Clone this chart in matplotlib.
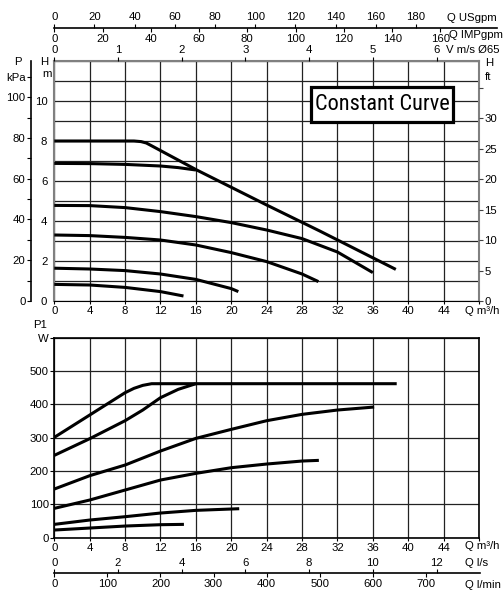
import matplotlib
matplotlib.use("Agg")
import matplotlib.pyplot as plt
from matplotlib.patches import Rectangle

plt.rcParams['font.family'] = ['Liberation Sans', 'DejaVu Sans']
plt.rcParams['font.size'] = 8.2

# unit factors, per m3/h (or per m of head)
USGPM = 4.4029
IMPGPM = 3.6662
LPS = 1 / 3.6
LPMIN = 1000 / 60
VEL = 1 / 7.2          # m/s in the pipe
KPA = 9.81
FT = 1 / 0.3048

# head curves: Q m3/h -> H m
q_h1 = [0, 4, 8, 9, 9.8, 10.4, 11, 16.1, 24, 30, 38.6]
h_h1 = [8.0, 8.0, 8.0, 8.0, 7.97, 7.9, 7.76, 6.55, 4.8, 3.5, 1.58]
q_h2 = [0, 4, 8, 12, 14, 16]
h_h2 = [6.88, 6.87, 6.83, 6.75, 6.67, 6.55]
q_h3 = [0, 4, 8, 12, 16, 20, 24, 28, 32, 36]
h_h3 = [4.78, 4.77, 4.67, 4.47, 4.22, 3.92, 3.55, 3.12, 2.45, 1.42]
q_h4 = [0, 4, 8, 12, 16, 20, 24, 28, 29.85]
h_h4 = [3.3, 3.27, 3.18, 3.05, 2.8, 2.42, 1.97, 1.35, 0.97]
q_h5 = [0, 4, 8, 12, 16, 20, 20.8]
h_h5 = [1.64, 1.6, 1.52, 1.35, 1.08, 0.62, 0.47]
q_h6 = [0, 4, 8, 12, 14.6]
h_h6 = [0.83, 0.8, 0.68, 0.47, 0.25]

# power curves: Q m3/h -> P1 W
q_p1 = [0, 4, 8, 9, 10, 11, 38.7]
p_p1 = [301, 368, 435, 448, 457, 462, 462]
q_p2 = [0, 4, 8, 10, 12, 14, 16]
p_p2 = [247, 297, 351, 383, 420, 445, 462]
q_p3 = [0, 4, 8, 12, 16, 20, 24, 28, 32, 36.15]
p_p3 = [146, 186, 218, 260, 298, 325, 351, 370, 383, 392]
q_p4 = [0, 4, 8, 12, 16, 20, 24, 28, 29.9]
p_p4 = [88, 113, 143, 173, 193, 210, 221, 230, 232]
q_p5 = [0, 4, 8, 12, 16, 20.9]
p_p5 = [40, 53, 63, 74, 82, 87]
q_p6 = [0, 4, 8, 12, 14.65]
p_p6 = [23, 29, 35, 39, 40]

head_curves = [(q_h1, h_h1), (q_h2, h_h2), (q_h3, h_h3),
               (q_h4, h_h4), (q_h5, h_h5), (q_h6, h_h6)]
power_curves = [(q_p1, p_p1), (q_p2, p_p2), (q_p3, p_p3),
                (q_p4, p_p4), (q_p5, p_p5), (q_p6, p_p6)]

q_ticks = list(range(0, 49, 4))
h_ticks = list(range(0, 13))
ft_ticks = list(range(0, 36, 5))
kpa_ticks = list(range(0, 111, 10))
p_ticks = list(range(0, 601, 100))
usgpm_ticks = list(range(0, 181, 20))
impgpm_ticks = list(range(0, 161, 20))
vel_ticks = list(range(0, 7))
lps_ticks = list(range(0, 13, 2))
lpmin_ticks = list(range(0, 701, 100))

W, H = 504, 608
fig = plt.figure(figsize=(W / 100, H / 100), dpi=100)


def box(x0, y0, x1, y1):
    """axes placed by pixel corners (top-left origin)"""
    return fig.add_axes([x0 / W, 1 - y1 / H, (x1 - x0) / W, (y1 - y0) / H])


def ftext(x, y, s, **kw):
    fig.text(x / W, 1 - y / H, s, va='center', **kw)


def dual_scale(y, x_end, q_end, top_factor, top_ticks, bot_factor, bot_ticks):
    """a bare line with one unit scale above it and another below"""
    ax_top = box(X0, y, x_end, y + 0.01)
    ax_bot = ax_top.twiny()
    ax_top.set_xlim(0, q_end * top_factor)
    ax_top.set_xticks(top_ticks)
    ax_top.set_yticks([])
    ax_bot.set_xlim(0, q_end * bot_factor)
    ax_bot.set_xticks(bot_ticks)
    # twiny resets the ticks of the first axes, so set positions afterwards
    ax_top.tick_params(axis='x', top=True, labeltop=True, bottom=False,
                       labelbottom=False, length=3, pad=1)
    ax_bot.tick_params(axis='x', top=False, labeltop=False, bottom=True,
                       labelbottom=True, length=3, pad=1)
    for s in ['left', 'right', 'top']:
        ax_top.spines[s].set_visible(False)
    ax_top.spines['bottom'].set_linewidth(1.2)
    for s in ax_bot.spines.values():
        s.set_visible(False)
    return ax_top, ax_bot


X0, X1 = 54.3, 479
QMAX = 48
GRID = '#222222'
SPINE_GREY = '#808080'

# ---------------- head chart ----------------
ax_h = box(X0, 61, X1, 301)
ax_h.set_xlim(0, QMAX)
ax_h.set_ylim(0, 12)
ax_h.set_xticks(q_ticks)
ax_h.set_xticklabels([str(t) if t < 48 else '' for t in q_ticks])
ax_h.set_yticks(h_ticks)
ax_h.set_yticklabels([str(t) if t % 2 == 0 and t <= 10 else '' for t in h_ticks])
ax_h.tick_params(axis='x', length=2, pad=1.5)
ax_h.tick_params(axis='y', length=0, pad=5)
ax_h.grid(True, color=GRID, lw=0.9)
for s in ['left', 'top', 'right']:
    ax_h.spines[s].set_color(SPINE_GREY)
    ax_h.spines[s].set_linewidth(1.5)
for q, h in head_curves:
    ax_h.plot(q, h, color='black', lw=2.2, solid_capstyle='butt', zorder=3)

# ft axis on the right
ax_ft = ax_h.twinx()
ax_ft.set_ylim(0, 12 * FT)
ax_ft.set_yticks(ft_ticks)
ax_ft.set_yticklabels([str(t) if t <= 30 else '' for t in ft_ticks])
ax_ft.tick_params(axis='y', length=3, pad=1, color='#444')
for s in ax_ft.spines.values():
    s.set_visible(False)

# kPa axis on the far left
ax_kpa = ax_h.twinx()
ax_kpa.set_ylim(0, 12 * KPA)
ax_kpa.yaxis.tick_left()
ax_kpa.set_yticks(kpa_ticks)
ax_kpa.set_yticklabels([str(t) if t % 20 == 0 else ('kPa' if t == 110 else '')
                        for t in kpa_ticks])
ax_kpa.tick_params(axis='y', length=3, pad=1)
for s in ['right', 'top', 'bottom']:
    ax_kpa.spines[s].set_visible(False)
ax_kpa.spines['left'].set_position(('axes', (31 - X0) / (X1 - X0)))
ax_kpa.spines['left'].set_linewidth(1.2)

# velocity scale on top of the head chart
ax_v = ax_h.twiny()
ax_v.set_xlim(0, QMAX * VEL)
ax_v.set_xticks(vel_ticks)
ax_v.tick_params(axis='x', length=3, pad=1)
for s in ['left', 'right', 'bottom', 'top']:
    ax_v.spines[s].set_visible(False)
ax_h.tick_params(axis='x', top=False, labeltop=False, bottom=True,
                 labelbottom=True)

# USgpm / IMPgpm scale
x_end = 497
dual_scale(28, x_end, QMAX * (x_end - X0) / (X1 - X0),
           USGPM, usgpm_ticks, IMPGPM, impgpm_ticks)

ftext(447, 18, 'Q USgpm')
ftext(449, 35, 'Q IMPgpm')
ftext(446, 50, 'V m/s Ø65')
ftext(18, 62, 'P', ha='center')
ftext(44, 62, 'H', ha='center')
ftext(47, 74, 'm', ha='center')
ftext(485, 63, 'H')
ftext(485, 77, 'ft')
ftext(465, 311, 'Q m³/h')

# "Constant Curve" box
fig.patches.append(Rectangle((310.7 / W, 1 - 121.7 / H), (453.3 - 310.7) / W,
                             (121.7 - 86.7) / H, transform=fig.transFigure,
                             facecolor='white', edgecolor='black', lw=2.3,
                             zorder=5))
fig.text(382 / W, 1 - 104.5 / H, 'Constant Curve', ha='center', va='center',
         fontsize=16,
         family=['Liberation Sans Narrow', 'Roboto Condensed', 'Liberation Sans'],
         zorder=6)

# ---------------- power chart ----------------
ax_p = box(X0, 337.7, X1, 537.7)
ax_p.set_xlim(0, QMAX)
ax_p.set_ylim(0, 600)
ax_p.set_xticks(q_ticks)
ax_p.set_xticklabels([str(t) if t < 48 else '' for t in q_ticks])
ax_p.set_yticks(p_ticks)
ax_p.set_yticklabels([str(t) if t < 600 else 'W' for t in p_ticks])
ax_p.tick_params(axis='x', length=2, pad=1.5)
ax_p.tick_params(axis='y', length=3, pad=1)
ax_p.grid(True, color=GRID, lw=0.9)
for s in ax_p.spines.values():
    s.set_linewidth(1.2)
for q, p in power_curves:
    ax_p.plot(q, p, color='black', lw=2.2, solid_capstyle='butt', zorder=3)
ftext(40, 325, 'P1', ha='center')
ftext(465, 546, 'Q m³/h')

# l/s and l/min scale
x_end2 = 480
dual_scale(573.3, x_end2, QMAX * (x_end2 - X0) / (X1 - X0),
           LPS, lps_ticks, LPMIN, lpmin_ticks)
ftext(465, 563, 'Q l/s')
ftext(465, 585, 'Q l/min')

fig.savefig('out.png', dpi=100)
